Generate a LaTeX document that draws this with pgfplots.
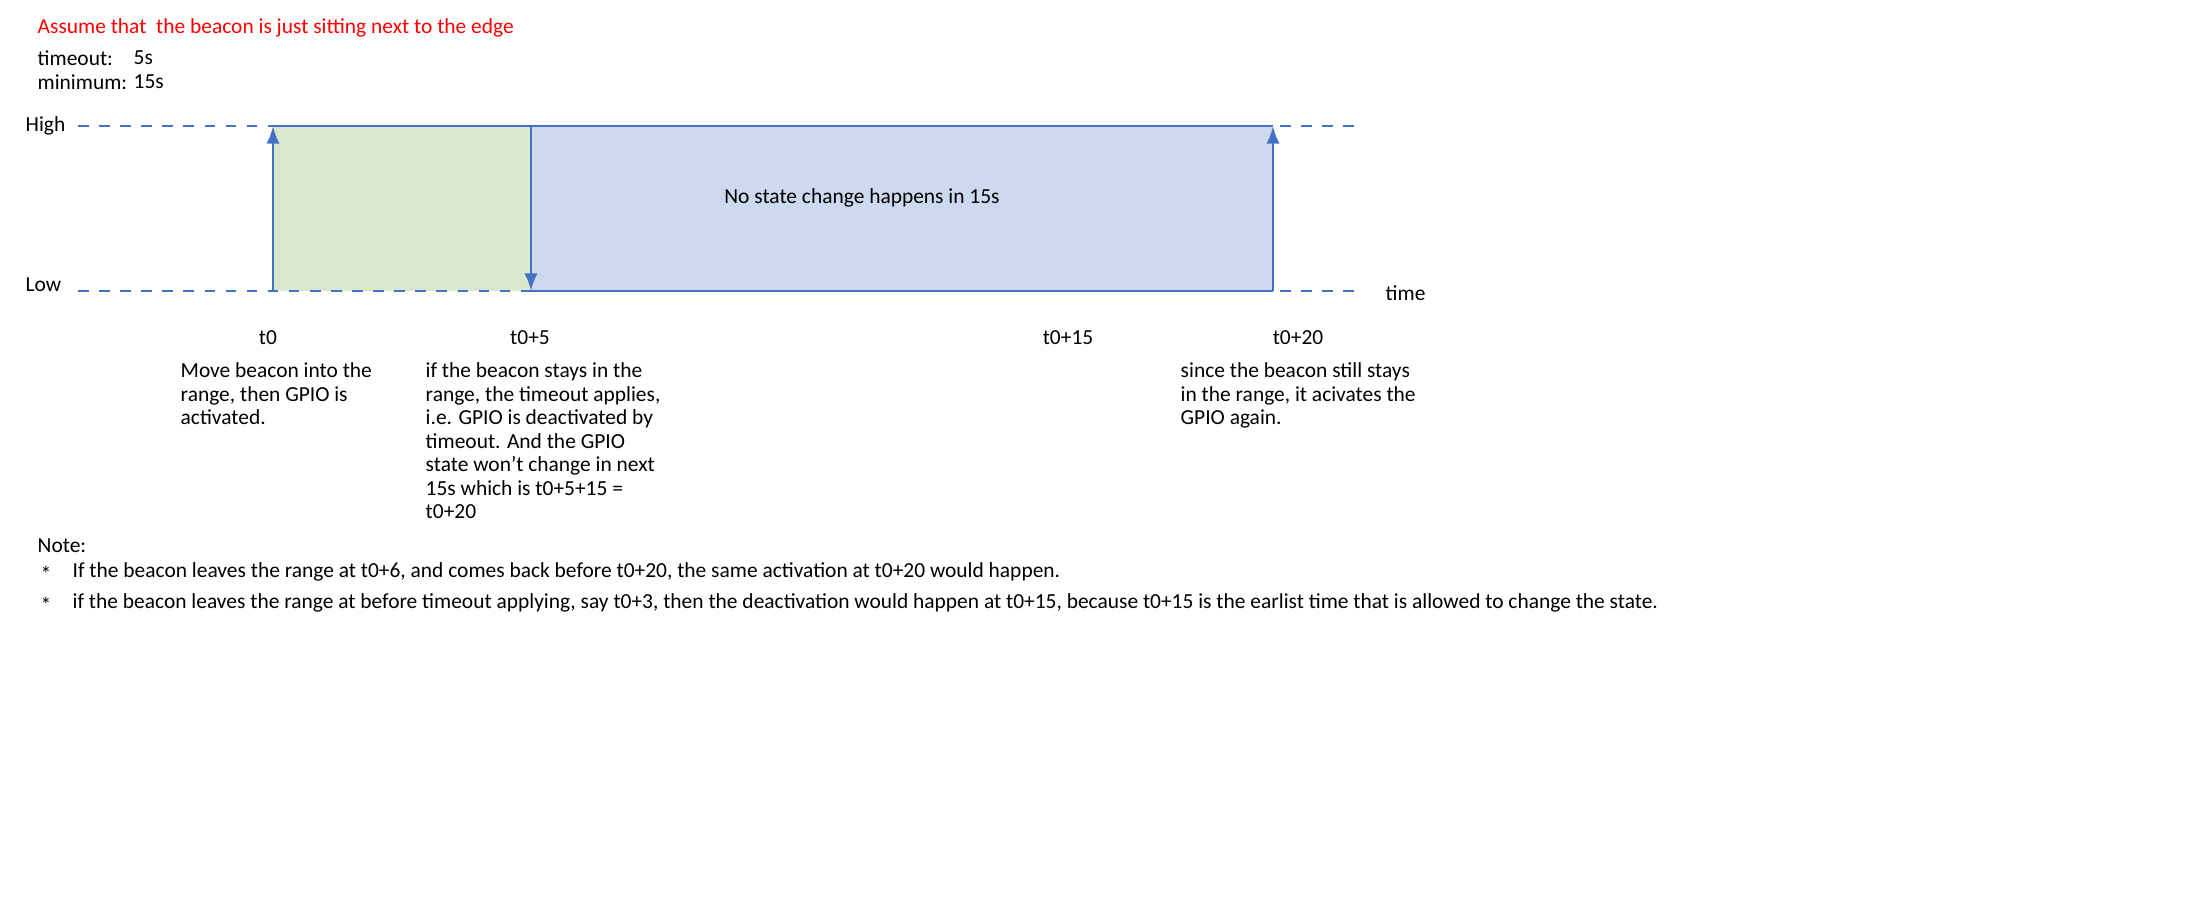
\documentclass[border=0pt]{standalone}
\usepackage{pgfplots}
\pgfplotsset{compat=1.18}
\usepackage{fontspec}
\setmainfont{Carlito}
\usetikzlibrary{arrows.meta}
\definecolor{ln}{HTML}{4472C4}
\definecolor{gr}{HTML}{D9E8CC}
\definecolor{bl}{HTML}{CCD9EE}
\begin{document}
\begin{tikzpicture}[font=\fontsize{6.1}{6.7}\selectfont]
\tikzset{t/.style={font=\fontsize{6.1}{6.7}\selectfont, inner sep=0pt}}
\begin{axis}[scale only axis, width=21.9cm, height=8.96cm, hide axis,
  xmin=0, xmax=2190, ymin=-896, ymax=0, clip=false]
\addplot[fill=gr, draw=none] coordinates {(273,-126) (530,-126) (530,-291) (273,-291)} --cycle;
\addplot[fill=bl, draw=none] coordinates {(530,-126) (1273,-126) (1273,-291) (530,-291)} --cycle;
\addplot[ln, dashed, thick] coordinates {(78,-126) (1355,-126)};
\addplot[ln, dashed, thick] coordinates {(78,-291) (1355,-291)};
\addplot[ln, thick] coordinates {(273,-126) (530,-126) (1273,-126)};
\addplot[ln, thick] coordinates {(530,-291) (1273,-291)};
\addplot[ln, thick, -{Latex[length=5pt]}] coordinates {(273,-291) (273,-126)};
\addplot[ln, thick, -{Latex[length=5pt]}] coordinates {(531,-126) (531,-291)};
\addplot[ln, thick, -{Latex[length=5pt]}] coordinates {(1273,-291) (1273,-126)};
\node[t, anchor=west, text=red] at (axis cs:37,-28) {Assume that\ \ the beacon is just sitting next to the edge};
\node[t, anchor=west] at (axis cs:37,-58) {timeout:};
\node[t, anchor=west] at (axis cs:133,-58) {5s};
\node[t, anchor=west] at (axis cs:37,-82) {minimum:};
\node[t, anchor=west] at (axis cs:133,-82) {15s};
\node[t, anchor=west] at (axis cs:25,-126) {High};
\node[t, anchor=west] at (axis cs:25,-285) {Low};
\node[t, anchor=west] at (axis cs:1385,-293) {time};
\node[t] at (axis cs:862,-198) {No state change happens in 15s};
\node[t] at (axis cs:268,-338) {t0};
\node[t] at (axis cs:530,-338) {t0+5};
\node[t] at (axis cs:1068,-338) {t0+15};
\node[t] at (axis cs:1298,-338) {t0+20};
\node[t, anchor=north west, align=left] at (axis cs:180,-362) {Move beacon into the\\range, then GPIO is\\activated.};
\node[t, anchor=north west, align=left] at (axis cs:425,-362) {if the beacon stays in the\\range, the timeout applies,\\i.e. GPIO is deactivated by\\timeout. And the GPIO\\state won't change in next\\15s which is t0+5+15 =\\t0+20};
\node[t, anchor=north west, align=left] at (axis cs:1180,-362) {since the beacon still stays\\in the range, it acivates the\\GPIO again.};
\node[t, anchor=west] at (axis cs:37,-546) {Note:};
\node[t, anchor=west] at (axis cs:40,-574) {*};
\node[t, anchor=west] at (axis cs:72,-572) {If the beacon leaves the range at t0+6, and comes back before t0+20, the same activation at t0+20 would happen.};
\node[t, anchor=west] at (axis cs:40,-605) {*};
\node[t, anchor=west] at (axis cs:72,-603) {if the beacon leaves the range at before timeout applying, say t0+3, then the deactivation would happen at t0+15, because t0+15 is the earlist time that is allowed to change the state.};
\end{axis}
\pgfresetboundingbox
\path[use as bounding box] (current axis.south west) rectangle (current axis.north east);
\end{tikzpicture}
\end{document}
